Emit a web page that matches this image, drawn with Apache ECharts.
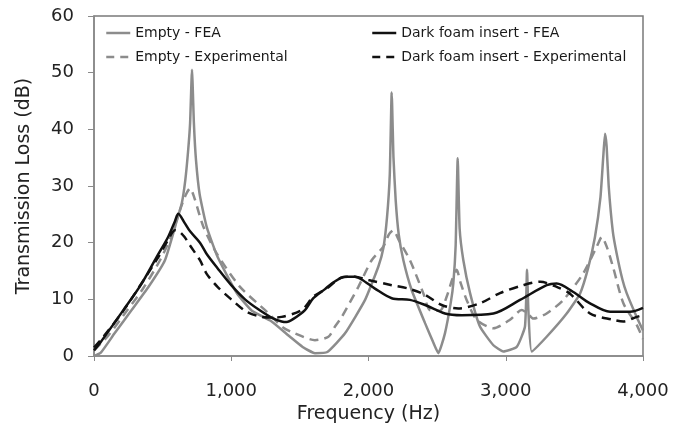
<!DOCTYPE html>
<html>
<head>
<meta charset="utf-8">
<script src="https://cdn.jsdelivr.net/npm/echarts@6/dist/echarts.min.js"></script>
<style>
	html, body { margin: 0; padding: 0; background: #fff; }
	#main { width: 687px; height: 434px; }
</style>
</head>
<body>
<div id="main"></div>
<script>
// series names
var names = [ "Empty - FEA", "Empty - Experimental", "Dark foam insert - FEA", "Dark foam insert - Experimental" ];
// Empty - FEA
var emptyFeaHz = [0, 50, 150, 274, 400, 517, 605, 640, 665, 685, 700, 714, 728, 743, 770, 821, 900, 1040, 1150, 1294, 1428, 1520, 1610, 1700, 1829, 1975, 2072, 2108, 2135, 2155, 2169, 2182, 2198, 2220, 2254, 2315, 2412, 2470, 2509, 2557, 2600, 2618, 2635, 2650, 2664, 2691, 2740, 2812, 2910, 2982, 3080, 3140, 3155, 3165, 3189, 3298, 3444, 3541, 3600, 3650, 3690, 3710, 3723, 3735, 3750, 3780, 3808, 3850, 3881, 3954, 4000];
var emptyFeaDb = [0, 0.6, 4.0, 8.1, 12.3, 16.9, 24, 27, 31, 36, 41, 50.5, 41, 34.6, 28.5, 22.8, 17.5, 11.1, 8, 6.1, 3.4, 1.6, 0.5, 0.7, 4, 9.9, 15.8, 19, 24.5, 32, 46.5, 35, 27.5, 21.5, 16.9, 11.6, 5.8, 2.5, 0.5, 4, 9.5, 12.8, 19.5, 34.9, 22.5, 16.9, 11.1, 5.2, 1.9, 0.8, 1.6, 5.2, 15.2, 8, 0.8, 3.4, 7.5, 11, 15.5, 21, 28, 35, 39.2, 37, 30, 22, 18.1, 13.5, 11.1, 6.9, 4.5];
// Empty - Experimental
var emptyExpHz = [0, 100, 243, 360, 481, 560, 627, 670, 700, 730, 797, 894, 1064, 1260, 1380, 1464, 1610, 1708, 1756, 1805, 1926, 2023, 2108, 2150, 2181, 2220, 2302, 2399, 2448, 2521, 2570, 2610, 2642, 2670, 2715, 2788, 2910, 3031, 3116, 3160, 3201, 3298, 3420, 3565, 3663, 3700, 3740, 3784, 3857, 3954, 4000];
var emptyExpDb = [1, 3.5, 8.1, 12, 16.9, 21, 25.8, 28.5, 29.6, 28, 22.8, 18.1, 12.2, 7.8, 5, 4, 2.8, 3.4, 5.2, 6.9, 12.2, 16.9, 19.3, 21.5, 22.2, 20.5, 16.9, 11.1, 8.1, 8, 10.5, 13.5, 15.2, 13, 9.9, 6.4, 4.9, 6.4, 8.1, 7.5, 6.6, 7.5, 9.9, 14.6, 19.3, 21, 19, 15.5, 9.3, 5.5, 3];
// Dark foam insert - FEA
var foamFeaHz = [0, 44, 214, 340, 457, 540, 590, 614, 660, 700, 772, 821, 900, 1000, 1100, 1200, 1300, 1367, 1404, 1450, 1537, 1598, 1683, 1732, 1829, 1902, 1950, 2047, 2169, 2302, 2412, 2557, 2680, 2910, 3104, 3298, 3371, 3492, 3614, 3760, 3905, 4000];
var foamFeaDb = [1, 2.3, 8.1, 12.5, 17.5, 21, 23.8, 25.1, 23.5, 22, 20, 18, 15.5, 12.5, 10, 8.2, 6.7, 6.1, 6, 6.5, 8.1, 10.2, 11.8, 12.8, 14, 14, 13.5, 11.9, 10.2, 9.9, 9, 7.5, 7.2, 7.5, 9.9, 12.5, 12.8, 11.3, 9.3, 7.8, 7.8, 8.5];
// Dark foam insert - Experimental
var foamExpHz = [0, 68, 214, 457, 540, 590, 620, 660, 700, 772, 821, 900, 1000, 1112, 1222, 1300, 1367, 1513, 1600, 1700, 1800, 1900, 1999, 2169, 2290, 2412, 2533, 2654, 2812, 2958, 3128, 3250, 3371, 3468, 3614, 3784, 3857, 3954, 4000];
var foamExpDb = [1.5, 3.4, 8, 17, 20.5, 22.2, 22, 21, 19.5, 16.9, 14.5, 12.2, 10, 7.8, 6.9, 6.8, 6.9, 8.1, 10.5, 12, 13.8, 14, 13.4, 12.5, 11.9, 10.8, 9, 8.4, 9.3, 11.1, 12.5, 13.1, 12.2, 11, 7.5, 6.4, 6.1, 6.9, 7.2];

// 组装 [x, y]
function pairs(xs, ys) {
	var out = [];
	for (var i = 0; i < xs.length; i++) {
		out.push([ xs[i], ys[i] ]);
	}
	return out;
}

var font = "DejaVu Sans";
var gray = "#8c8c8c", dark = "#111111";
var dash = [ 9, 6 ];

function makeSeries(name, data, color, dashed, smooth) {
	return {
		name : name,
		type : "line",
		data : data,
		showSymbol : false,
		symbol : "none",
		smooth : smooth,
		lineStyle : { color : color, width : 2.5, type : dashed ? dash : "solid" },
		itemStyle : { color : color }
	};
}

function legendItem(name, color, dashed) {
	return { name : name, itemStyle : { opacity : 0 }, lineStyle : { color : color, width : 2.5, type : dashed ? [ 8, 6 ] : "solid" } };
}

var myChart = echarts.init(document.getElementById("main"));
var legendText = { fontFamily : font, fontSize : 14, color : "#1a1a1a" };
myChart.setOption({
	animation : false,
	backgroundColor : "#fff",
	grid : { left : 94, right : 44, top : 16, bottom : 78, show : true, borderColor : "#7a7a7a", borderWidth : 1.5, backgroundColor : "transparent" },
	legend : [ {
		data : [ legendItem(names[0], gray, false), legendItem(names[1], gray, true) ],
		orient : "vertical",
		left : 105, top : 26, padding : 0,
		itemWidth : 24, itemHeight : 14, itemGap : 10,
		textStyle : legendText
	}, {
		data : [ legendItem(names[2], dark, false), legendItem(names[3], dark, true) ],
		orient : "vertical",
		left : 371, top : 26, padding : 0,
		itemWidth : 24, itemHeight : 14, itemGap : 10,
		textStyle : legendText
	} ],
	xAxis : {
		type : "value",
		min : 0, max : 4000, interval : 1000,
		name : "Frequency (Hz)",
		nameLocation : "middle",
		nameGap : 48,
		nameTextStyle : { fontFamily : font, fontSize : 19, color : "#222" },
		axisLine : { lineStyle : { color : "#8a8a8a", width : 1.5 } },
		axisTick : { show : true, length : 5, lineStyle : { color : "#8a8a8a" } },
		axisLabel : {
			margin : 26, fontFamily : font, fontSize : 18, color : "#222",
			formatter : function(v) { return v.toLocaleString("en-US"); }
		},
		splitLine : { show : false }
	},
	yAxis : {
		type : "value",
		min : 0, max : 60, interval : 10,
		name : "Transmission Loss (dB)",
		nameLocation : "middle",
		nameGap : 60,
		nameTextStyle : { fontFamily : font, fontSize : 19, color : "#222" },
		axisLine : { show : true, lineStyle : { color : "#8a8a8a", width : 1.5 } },
		axisTick : { show : true, length : 6, lineStyle : { color : "#8a8a8a" } },
		axisLabel : { margin : 20, fontFamily : font, fontSize : 18, color : "#222" },
		splitLine : { show : false }
	},
	series : [
		makeSeries(names[0], pairs(emptyFeaHz, emptyFeaDb), gray, false, 0.15),
		makeSeries(names[1], pairs(emptyExpHz, emptyExpDb), gray, true, 0.25),
		makeSeries(names[2], pairs(foamFeaHz, foamFeaDb), dark, false, 0.3),
		makeSeries(names[3], pairs(foamExpHz, foamExpDb), dark, true, 0.3)
	]
});
</script>
</body>
</html>
